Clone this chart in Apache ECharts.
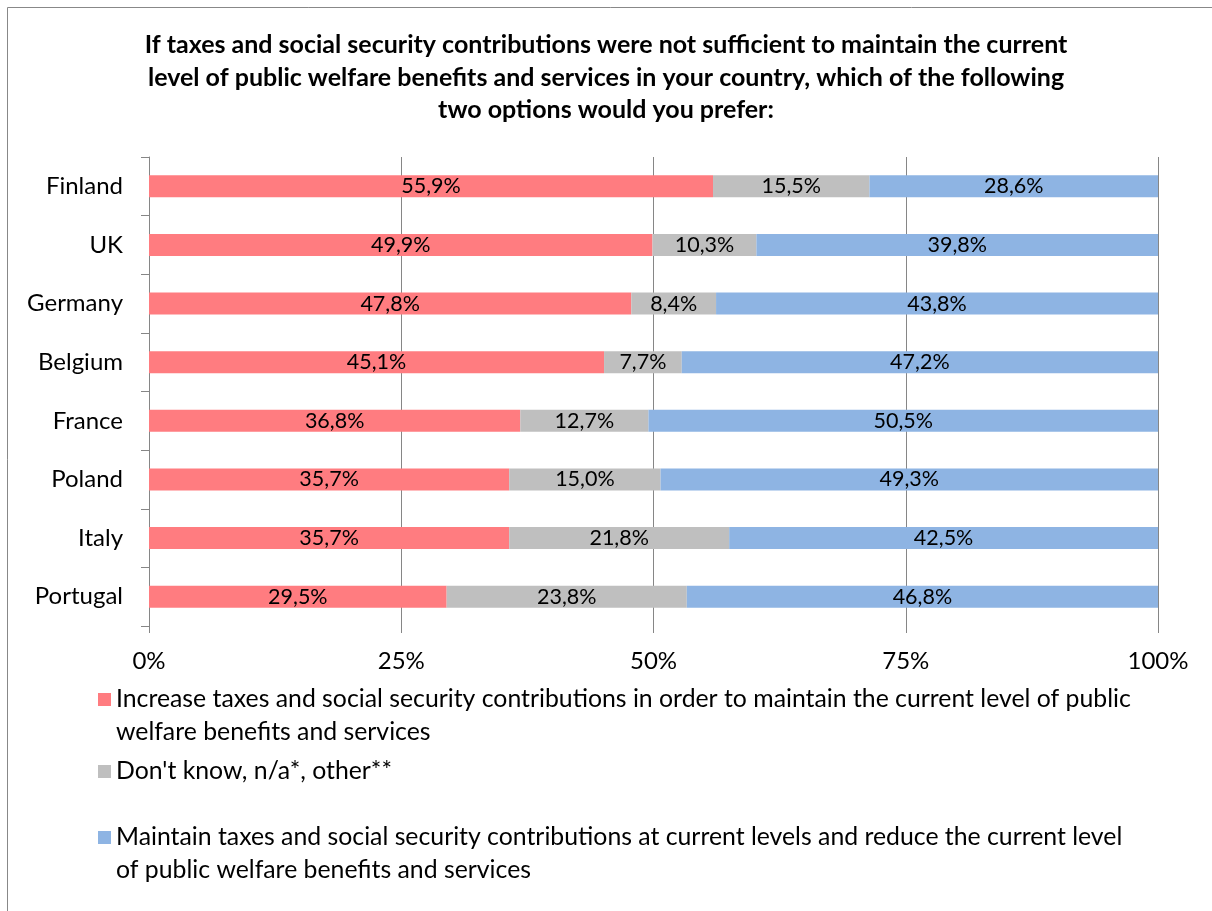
<!DOCTYPE html>
<html><head><meta charset="utf-8">
<script src="https://cdn.jsdelivr.net/npm/echarts@6/dist/echarts.min.js"></script>
<style>html,body{margin:0;padding:0;background:#fff}#c{width:1212px;height:911px}</style>
</head><body><div id="c"></div>
<script>
const categories = ['Finland','UK','Germany','Belgium','France','Poland','Italy','Portugal'];
const increaseVals = [55.9,49.9,47.8,45.1,36.8,35.7,35.7,29.5];
const dontKnowVals = [15.5,10.3,8.4,7.7,12.7,15.0,21.8,23.8];
const maintainVals = [28.6,39.8,43.8,47.2,50.5,49.3,42.5,46.8];
const xTicks = [0,25,50,75,100];
const seriesNames = [
  'Increase taxes and social security contributions in order to maintain the current level of public\nwelfare benefits and services',
  "Don't know, n/a*, other**",
  'Maintain taxes and social security contributions at current levels and reduce the current level\nof public welfare benefits and services'
];
const titleText = 'If taxes and social security contributions were not sufficient to maintain the current\nlevel of public welfare benefits and services in your country, which of the following\ntwo options would you prefer:';
const colors = ['#FF7C80','#BFBFBF','#8EB4E3'];
const FONT = 'Lato';
const chart = echarts.init(document.getElementById('c'));
const fmt = p => p.value.toFixed(1).replace('.', ',') + '%';
function mk(name, data, color){
  return {name, type:'bar', stack:'all', data, barWidth:22,
    itemStyle:{color},
    label:{show:true, position:'inside', formatter:fmt, color:'#000', fontFamily:FONT, fontSize:21.5},
    emphasis:{disabled:true}};
}
function lg(i, top, twoLines){
  return {show:true, orient:'vertical', left:93, top, data:[seriesNames[i]],
    itemWidth:13, itemHeight:13, selectedMode:false, icon:'rect',
    formatter: twoLines ? (n => ' \n' + n) : (n => n),
    textStyle:{fontFamily:FONT, fontSize:24.8, color:'#000', lineHeight:33}};
}
chart.setOption({
  animation:false,
  title:{text:titleText, left:'center', top:24,
    textStyle:{fontFamily:FONT, fontSize:25, fontWeight:'bold', color:'#000', lineHeight:32.5}},
  legend:[lg(0, 645, true), lg(1, 750, false), lg(2, 783, true)],
  grid:{left:149, right:54, top:157, bottom:285},
  xAxis:{type:'value', min:0, max:100, interval:25,
    axisLine:{show:false},
    axisTick:{show:true, length:7, lineStyle:{color:'#868686'}},
    splitLine:{show:true, lineStyle:{color:'#868686', width:1}},
    axisLabel:{formatter:'{value}%', fontFamily:FONT, fontSize:24, color:'#000', margin:23}},
  yAxis:{type:'category', data:categories, inverse:true,
    axisLine:{show:true, lineStyle:{color:'#868686'}},
    axisTick:{show:true, length:8, lineStyle:{color:'#868686'}},
    axisLabel:{fontFamily:FONT, fontSize:24, color:'#000', margin:26}},
  graphic:[{type:'rect', shape:{x:7.5, y:7.5, width:1240, height:940}, silent:true,
    style:{fill:'none', stroke:'#888', lineWidth:1}}],
  series:[mk(seriesNames[0], increaseVals, colors[0]), mk(seriesNames[1], dontKnowVals, colors[1]), mk(seriesNames[2], maintainVals, colors[2])]
});
</script></body></html>
